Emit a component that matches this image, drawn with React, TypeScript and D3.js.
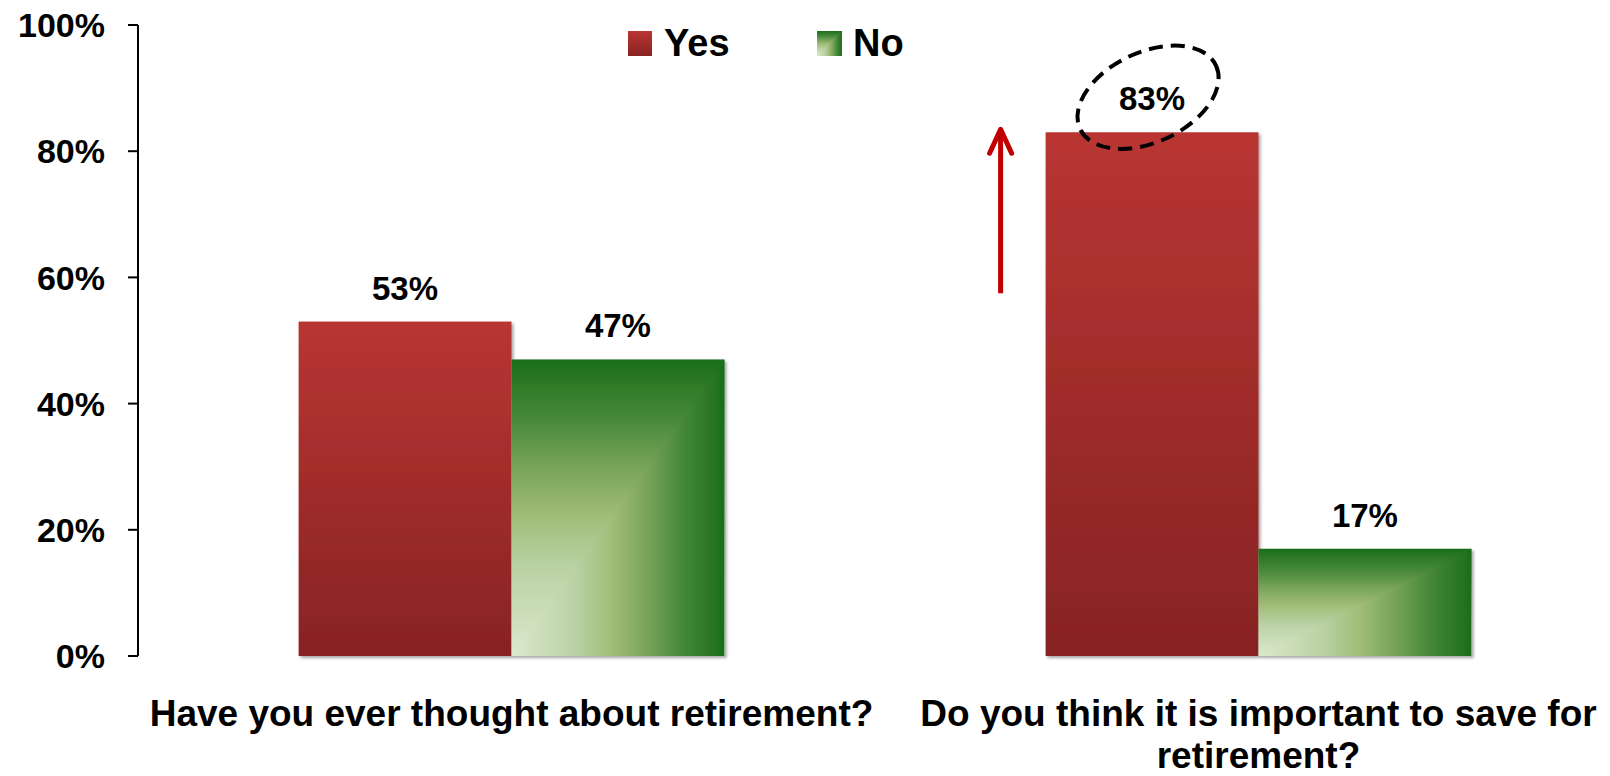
import React, { useEffect, useRef } from "react";
import * as d3 from "d3";

const categories = [
  "Have you ever thought about retirement?",
  "Do you think it is important to save for retirement?",
];
const seriesNames = ["Yes", "No"];
const yesValues = [53, 83];
const noValues = [47, 17];
const yTicks = [0, 20, 40, 60, 80, 100];
const highlightIndex = 1;
const arrowFrom = 57.5;

const W = 1610;
const H = 776;
const FONT = "'Liberation Sans', Arial, sans-serif";

export default function App() {
  const ref = useRef<SVGSVGElement | null>(null);

  useEffect(() => {
    const svg = d3.select(ref.current);
    svg.selectAll("*").remove();

    const axisX = 138;
    const plotRight = 1632;
    const y = d3.scaleLinear().domain([0, 100]).range([656, 25]);
    const x0 = d3
      .scaleBand<string>()
      .domain(categories)
      .range([axisX, plotRight])
      .paddingInner(0.43)
      .paddingOuter(0.215);
    const x1 = d3
      .scaleBand<string>()
      .domain(seriesNames)
      .range([0, x0.bandwidth()]);

    const defs = svg.append("defs");
    const red = defs
      .append("linearGradient")
      .attr("id", "gRed")
      .attr("x1", 0)
      .attr("y1", 0)
      .attr("x2", 0)
      .attr("y2", 1);
    red.append("stop").attr("offset", 0).attr("stop-color", "#b93533");
    red.append("stop").attr("offset", 1).attr("stop-color", "#872323");

    const greenStops: [number, string][] = [
      [0, "#dbe9cd"],
      [0.3, "#bad1a3"],
      [0.47, "#a2bd79"],
      [0.63, "#79a55a"],
      [0.8, "#47883a"],
      [1, "#1b6e1a"],
    ];
    const gv = defs
      .append("linearGradient")
      .attr("id", "gGreenV")
      .attr("x1", 0)
      .attr("y1", 1)
      .attr("x2", 0)
      .attr("y2", 0);
    greenStops.forEach(([o, c]) =>
      gv.append("stop").attr("offset", o).attr("stop-color", c)
    );
    const gh = defs
      .append("linearGradient")
      .attr("id", "gGreenH")
      .attr("x1", 0)
      .attr("y1", 0)
      .attr("x2", 1)
      .attr("y2", 0);
    greenStops.forEach(([o, c]) =>
      gh.append("stop").attr("offset", o).attr("stop-color", c)
    );

    const f = defs
      .append("filter")
      .attr("id", "shadow")
      .attr("x", "-5%")
      .attr("y", "-5%")
      .attr("width", "115%")
      .attr("height", "115%");
    f.append("feDropShadow")
      .attr("dx", 2)
      .attr("dy", 2)
      .attr("stdDeviation", 1.5)
      .attr("flood-color", "#000")
      .attr("flood-opacity", 0.35);

    // axis
    const ax = svg.append("g");
    ax.append("line")
      .attr("x1", axisX)
      .attr("x2", axisX)
      .attr("y1", y(0))
      .attr("y2", y(100))
      .attr("stroke", "#000")
      .attr("stroke-width", 2);
    yTicks.forEach((t) => {
      ax.append("line")
        .attr("x1", axisX - 10)
        .attr("x2", axisX)
        .attr("y1", y(t))
        .attr("y2", y(t))
        .attr("stroke", "#000")
        .attr("stroke-width", 2);
      ax.append("text")
        .attr("x", axisX - 33)
        .attr("y", y(t))
        .attr("dy", "0.36em")
        .attr("text-anchor", "end")
        .attr("font-family", FONT)
        .attr("font-weight", "bold")
        .attr("font-size", 34)
        .attr("fill", "#000")
        .text(`${t}%`);
    });

    const drawGreen = (
      g: d3.Selection<SVGGElement, unknown, null, undefined>,
      bx: number,
      by: number,
      bw: number,
      bh: number
    ) => {
      g.append("rect")
        .attr("x", bx)
        .attr("y", by)
        .attr("width", bw)
        .attr("height", bh)
        .attr("fill", "url(#gGreenV)");
      g.append("path")
        .attr(
          "d",
          `M${bx},${by + bh}L${bx + bw},${by + bh}L${bx + bw},${by}Z`
        )
        .attr("fill", "url(#gGreenH)");
    };

    // bars
    categories.forEach((c, i) => {
      const gx = x0(c)!;
      const vals = [yesValues[i], noValues[i]];
      seriesNames.forEach((s, j) => {
        const bx = gx + x1(s)!;
        const bw = x1.bandwidth();
        const by = y(vals[j]);
        const bh = y(0) - by;
        const g = svg.append("g").attr("filter", "url(#shadow)");
        if (j === 0) {
          g.append("rect")
            .attr("x", bx)
            .attr("y", by)
            .attr("width", bw)
            .attr("height", bh)
            .attr("fill", "url(#gRed)");
        } else {
          drawGreen(g, bx, by, bw, bh);
        }
      });
    });

    // labels
    categories.forEach((c, i) => {
      const gx = x0(c)!;
      const vals = [yesValues[i], noValues[i]];
      seriesNames.forEach((s, j) => {
        const cx = gx + x1(s)! + x1.bandwidth() / 2;
        svg
          .append("text")
          .attr("x", cx)
          .attr("y", y(vals[j]) - 22)
          .attr("text-anchor", "middle")
          .attr("font-family", FONT)
          .attr("font-weight", "bold")
          .attr("font-size", 33)
          .attr("fill", "#000")
          .text(`${vals[j]}%`);
      });
    });

    // annotation ellipse + arrow
    {
      const c = categories[highlightIndex];
      const cx = x0(c)! + x1(seriesNames[0])! + x1.bandwidth() / 2 - 4;
      const cy = y(yesValues[highlightIndex]) - 35;
      svg
        .append("ellipse")
        .attr("cx", 0)
        .attr("cy", 0)
        .attr("rx", 75)
        .attr("ry", 45)
        .attr("transform", `translate(${cx},${cy}) rotate(-25)`)
        .attr("fill", "none")
        .attr("stroke", "#000")
        .attr("stroke-width", 4)
        .attr("stroke-dasharray", "14 8");
      const axx = x0(c)! - 45;
      const tipY = y(yesValues[highlightIndex]) - 3;
      svg
        .append("line")
        .attr("x1", axx)
        .attr("x2", axx)
        .attr("y1", y(arrowFrom))
        .attr("y2", tipY + 2)
        .attr("stroke", "#c00000")
        .attr("stroke-width", 5);
      svg
        .append("path")
        .attr(
          "d",
          `M${axx - 11},${tipY + 24}L${axx},${tipY}L${axx + 11},${tipY + 24}`
        )
        .attr("fill", "none")
        .attr("stroke", "#c00000")
        .attr("stroke-width", 5)
        .attr("stroke-linecap", "round")
        .attr("stroke-linejoin", "round");
    }

    // category labels (wrapped)
    const line1Y = 726;
    const lineGap = 42;
    categories.forEach((c) => {
      const cx = x0(c)! + x0.bandwidth() / 2;
      const maxW = x0.step();
      const t = svg
        .append("text")
        .attr("x", cx)
        .attr("y", line1Y)
        .attr("text-anchor", "middle")
        .attr("font-family", FONT)
        .attr("font-weight", "bold")
        .attr("font-size", 37)
        .attr("fill", "#000");
      const words = c.split(" ");
      let line: string[] = [];
      let lineNo = 0;
      let ts = t.append("tspan").attr("x", cx).attr("y", line1Y);
      words.forEach((w) => {
        line.push(w);
        ts.text(line.join(" "));
        if (
          (ts.node() as SVGTSpanElement).getComputedTextLength() > maxW &&
          line.length > 1
        ) {
          line.pop();
          ts.text(line.join(" "));
          line = [w];
          lineNo += 1;
          ts = t
            .append("tspan")
            .attr("x", cx)
            .attr("y", line1Y + lineNo * lineGap)
            .text(w);
        }
      });
    });

    // legend
    const lg = svg.append("g");
    const legendX = [628, 817];
    seriesNames.forEach((s, j) => {
      const lx = legendX[j];
      if (j === 0) {
        lg.append("rect")
          .attr("x", lx)
          .attr("y", 31)
          .attr("width", 24)
          .attr("height", 25)
          .attr("fill", "url(#gRed)");
      } else {
        drawGreen(lg as any, lx, 31, 25, 25);
      }
      lg.append("text")
        .attr("x", lx + 36)
        .attr("y", 56)
        .attr("font-family", FONT)
        .attr("font-weight", "bold")
        .attr("font-size", 38)
        .attr("fill", "#000")
        .text(s);
    });
  }, []);

  return (
    <svg
      ref={ref}
      width={W}
      height={H}
      style={{ position: "absolute", left: 0, top: 0, background: "#fff" }}
    />
  );
}
